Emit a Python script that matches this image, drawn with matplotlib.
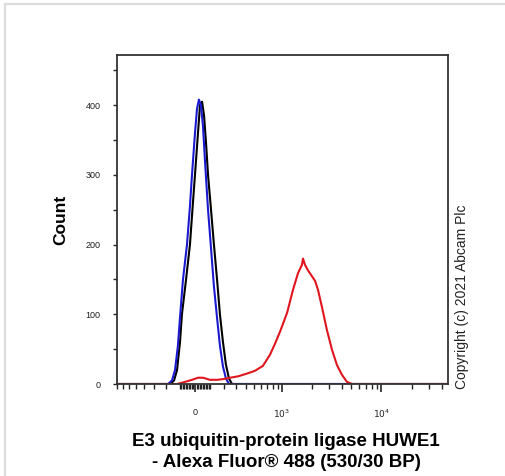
import numpy as np
import matplotlib
matplotlib.use("Agg")
import matplotlib.pyplot as plt
from matplotlib.ticker import FixedLocator, NullFormatter
from matplotlib.patches import Rectangle

plt.rcParams['font.family'] = ['Liberation Sans', 'DejaVu Sans']

# histogram traces (fluorescence, count)
black_x = [-900, -167, -138, -117, -97, -84, -57, -32, -13, 0, 19, 32, 45, 58, 71,
           84, 104, 124, 146, 167, 190, 213, 238, 264, 60000]
black_y = [0, 0, 5, 20, 60, 100, 150, 200, 260, 300, 360, 400, 405, 385, 345,
           300, 250, 200, 150, 100, 60, 28, 8, 0, 0]

blue_x = [-900, -182, -153, -131, -111, -97, -77, -51, -32, -19, 0, 13, 25, 38, 51,
          64, 84, 104, 124, 146, 167, 190, 213, 238, 60000]
blue_y = [0, 0, 5, 20, 55, 95, 150, 200, 255, 300, 360, 395, 408, 400, 370,
          320, 250, 195, 140, 95, 55, 25, 8, 0, 0]

red_x = [-900, -117, -64, -19, 19, 51, 97, 146, 190, 247, 320, 415, 514, 628, 749,
         847, 954, 1128, 1297, 1459, 1601, 1640, 1717, 1841, 2169, 2324, 2548, 2859,
         3210, 3602, 4043, 4535, 5089, 60000]
red_y = [0, 0, 3, 6, 9, 9, 6, 6, 7, 9, 11, 15, 19, 26, 42,
         58, 75, 102, 135, 159, 171, 180, 171, 163, 148, 135, 110, 77,
         49, 27, 13, 3, 0, 0]

x_major = [0, 1000, 10000]
x_major_labels = ['0', r'$10^3$', r'$10^4$']
x_minor = ([-800, -700, -600, -500, -400, -300, -200, -100]
           + [-90, -80, -70, -60, -50, -40, -30, -20, -10, 10, 20, 30, 40, 50, 60, 70, 80, 90]
           + [100, 200, 300, 400, 500, 600, 700, 800, 900]
           + [2000, 3000, 4000, 5000, 6000, 7000, 8000, 9000]
           + [20000, 30000, 40000])
y_major = [0, 100, 200, 300, 400]
y_minor = [50, 150, 250, 350, 450]

C = 276.0


def fwd(v):
    return np.arcsinh(np.asarray(v, dtype=float) / C) / np.log(10)


def inv(v):
    return C * np.sinh(np.asarray(v, dtype=float) * np.log(10))


fig = plt.figure(figsize=(5.06, 4.76), dpi=100)
ax = fig.add_axes([117 / 506, 92 / 476, 331 / 506, 329 / 476])
ax.set_xscale('function', functions=(fwd, inv))

ax.plot(black_x, black_y, color='black', lw=1.5)
ax.plot(blue_x, blue_y, color='#1a1ad0', lw=1.5)
ax.plot(red_x, red_y, color='#e0161e', lw=1.5)

ax.set_xlim(-805, 46200)
ax.set_ylim(0, 472)

ax.xaxis.set_major_locator(FixedLocator(x_major))
ax.set_xticklabels(x_major_labels)
ax.xaxis.set_minor_locator(FixedLocator(x_minor))
ax.xaxis.set_minor_formatter(NullFormatter())
ax.yaxis.set_major_locator(FixedLocator(y_major))
ax.yaxis.set_minor_locator(FixedLocator(y_minor))

ax.tick_params(axis='x', which='major', length=6, width=1.2, direction='out',
               labelsize=6.5, pad=11, colors='#222222')
ax.tick_params(axis='x', which='minor', length=3.5, width=1, direction='out', color='#222222')
ax.tick_params(axis='y', which='both', length=3, width=1, direction='out',
               labelsize=6.5, pad=9, colors='#222222')
for s in ax.spines.values():
    s.set_linewidth(1.3)
    s.set_color('#333333')

ax.set_ylabel('Count', fontsize=12.5, fontweight='bold', labelpad=12)
fig.text(286 / 506, 1 - 452 / 476,
         'E3 ubiquitin-protein ligase HUWE1\n- Alexa Fluor\u00ae 488 (530/30 BP)',
         ha='center', va='center', fontsize=13.5, fontweight='bold', linespacing=1.3)
fig.text(462 / 506, 1 - 389 / 476, 'Copyright (c) 2021 Abcam Plc', rotation=90,
         ha='center', va='bottom', fontsize=10, color='#222222')

fig.patches.append(Rectangle((5 / 506, -0.1), 1.2, 1 - 3.5 / 476 + 0.1,
                             transform=fig.transFigure, fill=False,
                             edgecolor='#dddddd', lw=1.6))

fig.savefig('out.png', dpi=100)
